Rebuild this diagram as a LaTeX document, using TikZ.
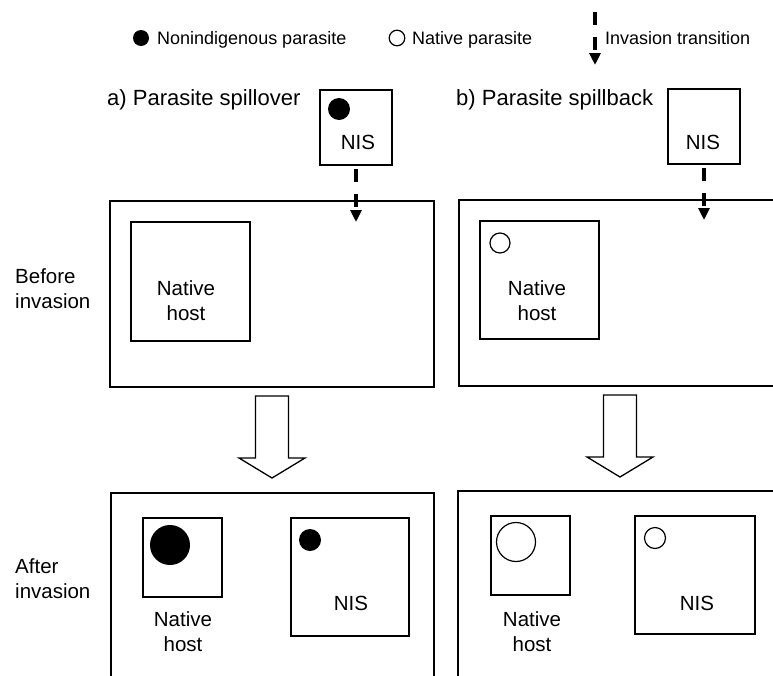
\documentclass[tikz,border=0pt]{standalone}
\usepackage{fontspec}
\setmainfont{Liberation Sans}
\usetikzlibrary{arrows.meta}

\tikzset{
  box/.style={draw, line width=1.3pt, inner sep=0pt},
  legendtext/.style={anchor=base west, inner sep=0pt, font=\fontsize{18}{22}\selectfont},
  titletext/.style={anchor=base west, inner sep=0pt, font=\fontsize{22}{26}\selectfont},
  boxtext/.style={align=center, inner sep=0pt, font=\fontsize{20.5}{25}\selectfont},
  rowtext/.style={anchor=west, align=left, inner sep=0pt, font=\fontsize{20.5}{25}\selectfont},
  nonindigenous/.style={fill=black},
  nativepar/.style={draw, line width=1.2pt},
  invasion/.style={line width=3.5pt, dash pattern=on 13pt off 12pt, -{Triangle[length=12pt,width=11pt]}},
  blockarrow/.style={draw, line width=1.3pt, line join=miter}
}

\begin{document}
\begin{tikzpicture}[x=1pt,y=-1pt]
\useasboundingbox (0,0) rectangle (773,675);
\clip (0,0) rectangle (773,675);
% Draw legend
\fill[nonindigenous] (141,38) circle (8pt);
\node[legendtext] (legNon) at (157,44) {Nonindigenous parasite};
\draw[nativepar] (397,38) circle (7.8pt);
\node[legendtext] (legNat) at (412,44) {Native parasite};
\coordinate (legTop) at (595,12);
\coordinate (legTip) at (595,65);
\draw[invasion] (legTop) -- (legTip);
\node[legendtext] (legInv) at (605,44) {Invasion transition};
% Draw titles
\node[titletext] (titleA) at (107,105) {a) Parasite spillover};
\node[titletext] (titleB) at (456,105) {b) Parasite spillback};
% Draw row labels
\node[rowtext] (rowBefore) at (15,289) {Before\\invasion};
\node[rowtext] (rowAfter) at (15,579) {After\\invasion};
% Draw NIS boxes on top
\node[box, minimum width=72pt, minimum height=75pt] (nisA) at (356,127.5) {};
\fill[nonindigenous] (339,109) circle (11pt);
\node[boxtext] (nisAText) at (358,142) {NIS};
\node[box, minimum width=72pt, minimum height=75pt] (nisB) at (704,126.5) {};
\node[boxtext] (nisBText) at (703,142) {NIS};
% Draw before invasion
\node[box, minimum width=324pt, minimum height=186pt] (beforeA) at (272,294) {};
\node[box, minimum width=341pt, minimum height=186pt] (beforeB) at (629.5,293) {};
\node[box, minimum width=119pt, minimum height=119pt] (hostA) at (190.5,281.5) {};
\node[boxtext] (hostAText) at (186,300.5) {Native\\host};
\node[box, minimum width=119pt, minimum height=118pt] (hostB) at (539.5,280) {};
\draw[nativepar] (500,243) circle (10pt);
\node[boxtext] (hostBText) at (537,300.5) {Native\\host};
% Draw invasion transitions
\coordinate (tipA) at (356,222);
\coordinate (tipB) at (704,220);
\draw[invasion, shorten <=3pt] (nisA.south) -- (tipA);
\draw[invasion, shorten <=3pt] (nisB.south) -- (tipB);
% Draw block arrows
\foreach \x/\y in {272/396,620/395}
\draw[blockarrow] (\x-16.5,\y) -- ++(33,0) -- ++(0,62) -- ++(16.5,0)
  -- ++(-33,20) -- ++(-33,-20) -- ++(16.5,0) -- cycle;
% Draw after invasion
\node[box, minimum width=323pt, minimum height=207pt] (afterA) at (272.5,596.5) {};
\node[box, minimum width=342pt, minimum height=209pt] (afterB) at (629,595.5) {};
\node[box, minimum width=79pt, minimum height=79pt] (hostAfterA) at (182.5,557.5) {};
\fill[nonindigenous] (170,545) circle (20pt);
\node[boxtext] (hostAfterAText) at (183,631.5) {Native\\host};
\node[box, minimum width=118pt, minimum height=118pt] (nisAfterA) at (350,577) {};
\fill[nonindigenous] (310,540) circle (11pt);
\node[boxtext] (nisAfterAText) at (351,603) {NIS};
\node[box, minimum width=79pt, minimum height=79pt] (hostAfterB) at (530.5,555.5) {};
\draw[nativepar] (516,542) circle (19.5pt);
\node[boxtext] (hostAfterBText) at (532,631.5) {Native\\host};
\node[box, minimum width=120pt, minimum height=118pt] (nisAfterB) at (695,575) {};
\draw[nativepar] (655,538) circle (10.5pt);
\node[boxtext] (nisAfterBText) at (697,603) {NIS};
\end{tikzpicture}
\end{document}
